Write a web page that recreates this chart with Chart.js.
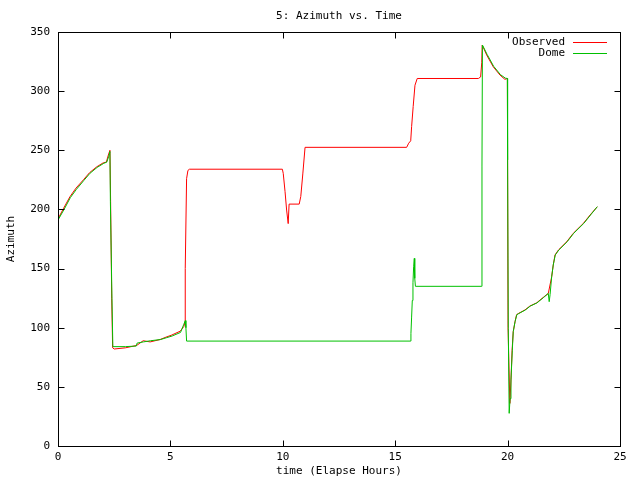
<!DOCTYPE html>
<html>
<head>
<meta charset="utf-8">
<script src="https://cdn.jsdelivr.net/npm/chart.js@4"></script>
<style>
  html, body { margin: 0; padding: 0; background: #fff; }
  canvas { display: block; }
</style>
</head>
<body>
<canvas id="azChart" width="640" height="480"></canvas>
<script>
const chartTitle = '5: Azimuth vs. Time';
const xTitle = 'time (Elapse Hours)';
const yTitle = 'Azimuth';
const seriesNames = ['Observed', 'Dome'];
const seriesColors = ['#ff0000', '#00c000'];
const xTicks = [0, 5, 10, 15, 20, 25];
const yTicks = [0, 50, 100, 150, 200, 250, 300, 350];

// Observed azimuth (red)
const obsTime = [
  0, 0.25, 0.53, 0.8, 1.13, 1.4, 1.72, 2.02, 2.15, 2.24,
  2.31, 2.34, 2.39, 2.43, 2.5, 3.0, 3.5, 3.79, 4.1, 4.54,
  4.8, 5.06, 5.43, 5.6, 5.65, 5.66, 5.72, 5.78, 5.85, 9.98,
  10.02, 10.1, 10.17, 10.24, 10.28, 10.73, 10.8, 10.89, 10.99, 15.51,
  15.6, 15.69, 15.73, 15.8, 15.88, 15.98, 18.7, 18.8, 18.85, 18.87,
  19.07, 19.36, 19.66, 19.88, 19.99, 20.02, 20.1, 20.15, 20.2, 20.25,
  20.33, 20.4, 20.48, 20.77, 20.99, 21.29, 21.59, 21.81, 21.96, 22.03,
  22.11, 22.26, 22.63, 22.92, 23.37, 23.67, 23.99
];
const obsAz = [
  192, 201, 210.7, 218, 225, 231, 236, 239.5, 240, 246,
  250, 207, 125, 83, 82, 83, 85, 89, 88, 90,
  92, 93.8, 97, 101, 105, 150, 226, 233, 234, 234,
  230.5, 215, 199.5, 188, 204.5, 204.5, 211, 230, 252.5, 252.5,
  256, 258, 270, 287, 305, 310.7, 310.7, 312, 324, 339,
  330.5, 320.6, 313.6, 310, 310.7, 100, 36, 55.8, 81, 96.6,
  105, 111, 112, 115, 118.3, 121, 125.7, 129, 143, 153,
  161.5, 165.7, 172.7, 179.8, 188.2, 195.3, 202.3
];

// Dome azimuth (green)
const domeTime = [
  0, 0.27, 0.55, 0.82, 1.15, 1.42, 1.74, 2.04, 2.17, 2.26,
  2.31, 2.33, 2.4, 2.44, 3.0, 3.48, 3.52, 3.8, 4.12, 4.56,
  4.82, 5.08, 5.45, 5.6, 5.66, 5.69, 5.72, 15.69, 15.7, 15.73,
  15.76, 15.79, 15.82, 15.85, 15.87, 15.9, 18.85, 18.86, 18.88, 19.09,
  19.38, 19.68, 19.9, 19.99, 20.0, 20.03, 20.07, 20.11, 20.15, 20.21,
  20.25, 20.33, 20.41, 20.5, 20.79, 21.01, 21.31, 21.61, 21.81, 21.85,
  21.89, 21.96, 22.03, 22.12, 22.28, 22.65, 22.94, 23.39, 23.69, 23.99
];
const domeAz = [
  191, 200, 210, 217, 224.5, 230.5, 235.5, 239, 240, 245,
  249, 207, 125, 84, 84, 84.5, 87, 88, 89, 90,
  91.5, 93, 96, 103, 106, 100, 88.7, 88.7, 95, 109,
  123, 138, 151.5, 158.6, 141.7, 135, 135, 236.7, 339, 331,
  321, 314, 311, 310.7, 241.8, 99.5, 27.6, 40, 55.8, 81,
  96.6, 105, 111, 112, 115, 118.3, 121, 125.7, 129, 122,
  128, 143, 153, 161.5, 165.7, 172.7, 179.8, 188.2, 195.3, 202.3
];

const toPoints = (xs, ys) => xs.map((x, i) => ({ x: x, y: ys[i] }));

// box, inward ticks on all sides, title and legend like gnuplot
const gnuplotFrame = {
  id: 'gnuplotFrame',
  afterDraw(chart) {
    const { ctx, chartArea: a, scales } = chart;
    const L = Math.round(a.left) + 0.5, R = Math.round(a.right) + 0.5;
    const T = Math.round(a.top) + 0.5, B = Math.round(a.bottom) + 0.5;
    ctx.save();
    ctx.strokeStyle = '#000';
    ctx.lineWidth = 1;
    ctx.strokeRect(L, T, R - L, B - T);

    ctx.beginPath();
    scales.x.ticks.forEach(t => {
      const px = Math.round(scales.x.getPixelForValue(t.value)) + 0.5;
      ctx.moveTo(px, B); ctx.lineTo(px, B - 6);
      ctx.moveTo(px, T); ctx.lineTo(px, T + 6);
    });
    scales.y.ticks.forEach(t => {
      const py = Math.round(scales.y.getPixelForValue(t.value)) + 0.5;
      ctx.moveTo(L, py); ctx.lineTo(L + 6, py);
      ctx.moveTo(R, py); ctx.lineTo(R - 6, py);
    });
    ctx.stroke();

    ctx.fillStyle = '#000';
    ctx.font = '11px "DejaVu Sans Mono", monospace';
    ctx.textAlign = 'center';
    ctx.textBaseline = 'middle';
    ctx.fillText(chartTitle, (a.left + a.right) / 2, 16);

    // legend
    ctx.textAlign = 'right';
    chart.data.datasets.forEach((ds, i) => {
      const y = Math.round(a.top + 10 + i * 11) + 0.5;
      ctx.fillStyle = '#000';
      ctx.fillText(ds.label, a.right - 55, y);
      ctx.strokeStyle = ds.borderColor;
      ctx.beginPath();
      ctx.moveTo(a.right - 47, y);
      ctx.lineTo(a.right - 13, y);
      ctx.stroke();
    });
    ctx.restore();
  }
};

Chart.defaults.font.family = '"DejaVu Sans Mono", monospace';
Chart.defaults.font.size = 11;
Chart.defaults.color = '#000';

new Chart(document.getElementById('azChart'), {
  type: 'line',
  data: {
    datasets: [
      {
        label: seriesNames[0],
        data: toPoints(obsTime, obsAz),
        borderColor: seriesColors[0],
        borderWidth: 1,
        pointRadius: 0,
        tension: 0,
        fill: false,
        order: 2
      },
      {
        label: seriesNames[1],
        data: toPoints(domeTime, domeAz),
        borderColor: seriesColors[1],
        borderWidth: 1,
        pointRadius: 0,
        tension: 0,
        fill: false,
        order: 1
      }
    ]
  },
  options: {
    responsive: false,
    animation: false,
    devicePixelRatio: 1,
    layout: { padding: { top: 32, right: 20, left: 0, bottom: 0 } },
    plugins: {
      legend: { display: false },
      title: { display: false },
      tooltip: { enabled: false }
    },
    scales: {
      x: {
        type: 'linear',
        min: xTicks[0],
        max: xTicks[xTicks.length - 1],
        afterBuildTicks: s => { s.ticks = xTicks.map(v => ({ value: v })); },
        afterFit: s => { s.height = 34; },
        grid: { display: false, drawTicks: false },
        border: { display: false },
        ticks: { padding: 5, maxRotation: 0 },
        title: { display: true, text: xTitle, padding: { top: 0, bottom: 2 } }
      },
      y: {
        type: 'linear',
        min: yTicks[0],
        max: yTicks[yTicks.length - 1],
        afterBuildTicks: s => { s.ticks = yTicks.map(v => ({ value: v })); },
        afterFit: s => { s.width = 58; },
        grid: { display: false, drawTicks: false },
        border: { display: false },
        ticks: { padding: 8 },
        title: { display: true, text: yTitle, padding: { top: 5, bottom: 0 } }
      }
    }
  },
  plugins: [gnuplotFrame]
});
</script>
</body>
</html>
